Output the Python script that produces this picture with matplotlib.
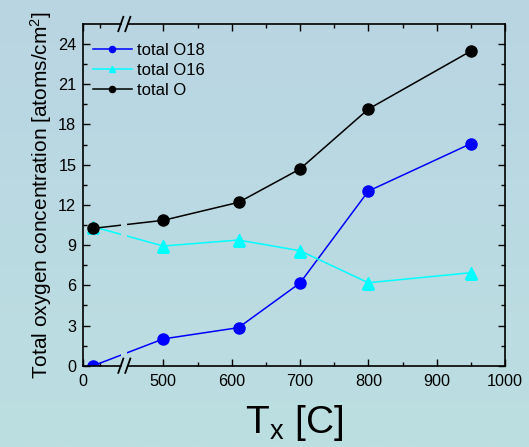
import matplotlib
matplotlib.use("Agg")
import matplotlib.pyplot as plt
import numpy as np
from matplotlib.path import Path

plt.rcParams['font.family'] = ['Liberation Sans', 'DejaVu Sans']
plt.rcParams['mathtext.default'] = 'regular'

# Dados
temperatura = [30, 500, 610, 700, 800, 950]
total_o18 = [0.0, 2.0, 2.84, 6.17, 13.03, 16.57]
total_o16 = [10.37, 8.93, 9.38, 8.58, 6.19, 6.94]
total_o = [10.25, 10.85, 12.19, 14.68, 19.15, 23.48]
xticks_maiores = [0, 500, 600, 700, 800, 900, 1000]
xticks_menores = [50, 550, 650, 750, 850, 950]

# Eixo x quebrado: 0..B1 comprimido, B2..1000 normal
B1, B2 = 122.8, 442.9
W1 = 41.0
S2 = 0.683
TOTAL = W1 + (1000 - B2) * S2
XP = [0, B1, B2, 1000]
FP = [0, W1, W1 + 1e-6, TOTAL]

def fwd(x):
    return np.interp(x, XP, FP)

def inv(u):
    return np.interp(u, FP, XP)

fig = plt.figure(figsize=(5.29, 4.47), dpi=100)

# fundo em degradê
bg = fig.add_axes([0, 0, 1, 1], zorder=-10)
top = np.array([185, 213, 227]) / 255
bot = np.array([188, 223, 225]) / 255
t = np.linspace(0, 1, 256)[:, None]
grad = (top[None, :] * (1 - t) + bot[None, :] * t)[:, None, :]
bg.imshow(grad, aspect='auto', extent=[0, 1, 0, 1])
bg.axis('off')

ax = fig.add_axes([83.3 / 529, 1 - 365.7 / 447, (505 - 83.3) / 529, (365.7 - 24) / 447])
ax.set_facecolor('none')
ax.set_xscale('function', functions=(fwd, inv))
ax.set_xlim(0, 1000)
ax.set_ylim(0, 25.5)

# região de corte para as linhas (lacuna na quebra)
frac = W1 / TOTAL
gap_lo, gap_hi = frac - 0.0075, frac + 0.0075
clip = Path.make_compound_path(
    Path([(0, 0), (gap_lo, 0), (gap_lo, 1), (0, 1), (0, 0)],
         [Path.MOVETO, Path.LINETO, Path.LINETO, Path.LINETO, Path.CLOSEPOLY]),
    Path([(gap_hi, 0), (1, 0), (1, 1), (gap_hi, 1), (gap_hi, 0)],
         [Path.MOVETO, Path.LINETO, Path.LINETO, Path.LINETO, Path.CLOSEPOLY]))

series = [
    (total_o18, '#0000ff', 'o', 'total O18'),
    (total_o16, '#00ffff', '^', 'total O16'),
    (total_o, 'black', 'o', 'total O'),
]
for y, cor, mk, nome in series:
    ln, = ax.plot(temperatura, y, color=cor, marker=mk, markersize=8,
                  linewidth=1.1, label=nome)
    ln.set_clip_path(clip, transform=ax.transAxes)

ax.set_xticks(xticks_maiores)
ax.set_xticks(xticks_menores, minor=True)
ax.set_yticks(np.arange(0, 25, 3))
ax.set_yticks(np.arange(1.5, 25.5, 3), minor=True)
ax.tick_params(which='both', direction='in', top=True, right=True,
               labelsize=11.7, width=1.0)
ax.tick_params(which='major', length=5)
ax.tick_params(which='minor', length=3)
ax.tick_params(axis='x', pad=6)
ax.tick_params(axis='y', pad=5)

# eixos superior e inferior com quebra
for s in ['top', 'bottom']:
    ax.spines[s].set_visible(False)
for ys in [0, 1]:
    ax.plot([0, frac - 0.0083], [ys, ys], color='black', lw=1.2,
            transform=ax.transAxes, clip_on=False)
    ax.plot([frac + 0.0083, 1], [ys, ys], color='black', lw=1.2,
            transform=ax.transAxes, clip_on=False)
    for dx in [-0.0083, 0.0083]:
        ax.plot([frac + dx - 0.006, frac + dx + 0.006],
                [ys - 0.021, ys + 0.021], color='black', lw=1.3,
                transform=ax.transAxes, clip_on=False)
for s in ['left', 'right']:
    ax.spines[s].set_linewidth(1.2)

ax.set_ylabel('Total oxygen concentration [atoms/cm$^2$]', fontsize=15, labelpad=3)
ax.set_xlabel('T$_x$ [C]', fontsize=28, labelpad=10)

ax.legend(loc='upper left', bbox_to_anchor=(0, 0.973), frameon=False,
          fontsize=12, markerscale=0.55, handlelength=2.3, handletextpad=0.3,
          labelspacing=0.3, borderaxespad=0.3, borderpad=0.3)

fig.savefig('out.png', dpi=100)
